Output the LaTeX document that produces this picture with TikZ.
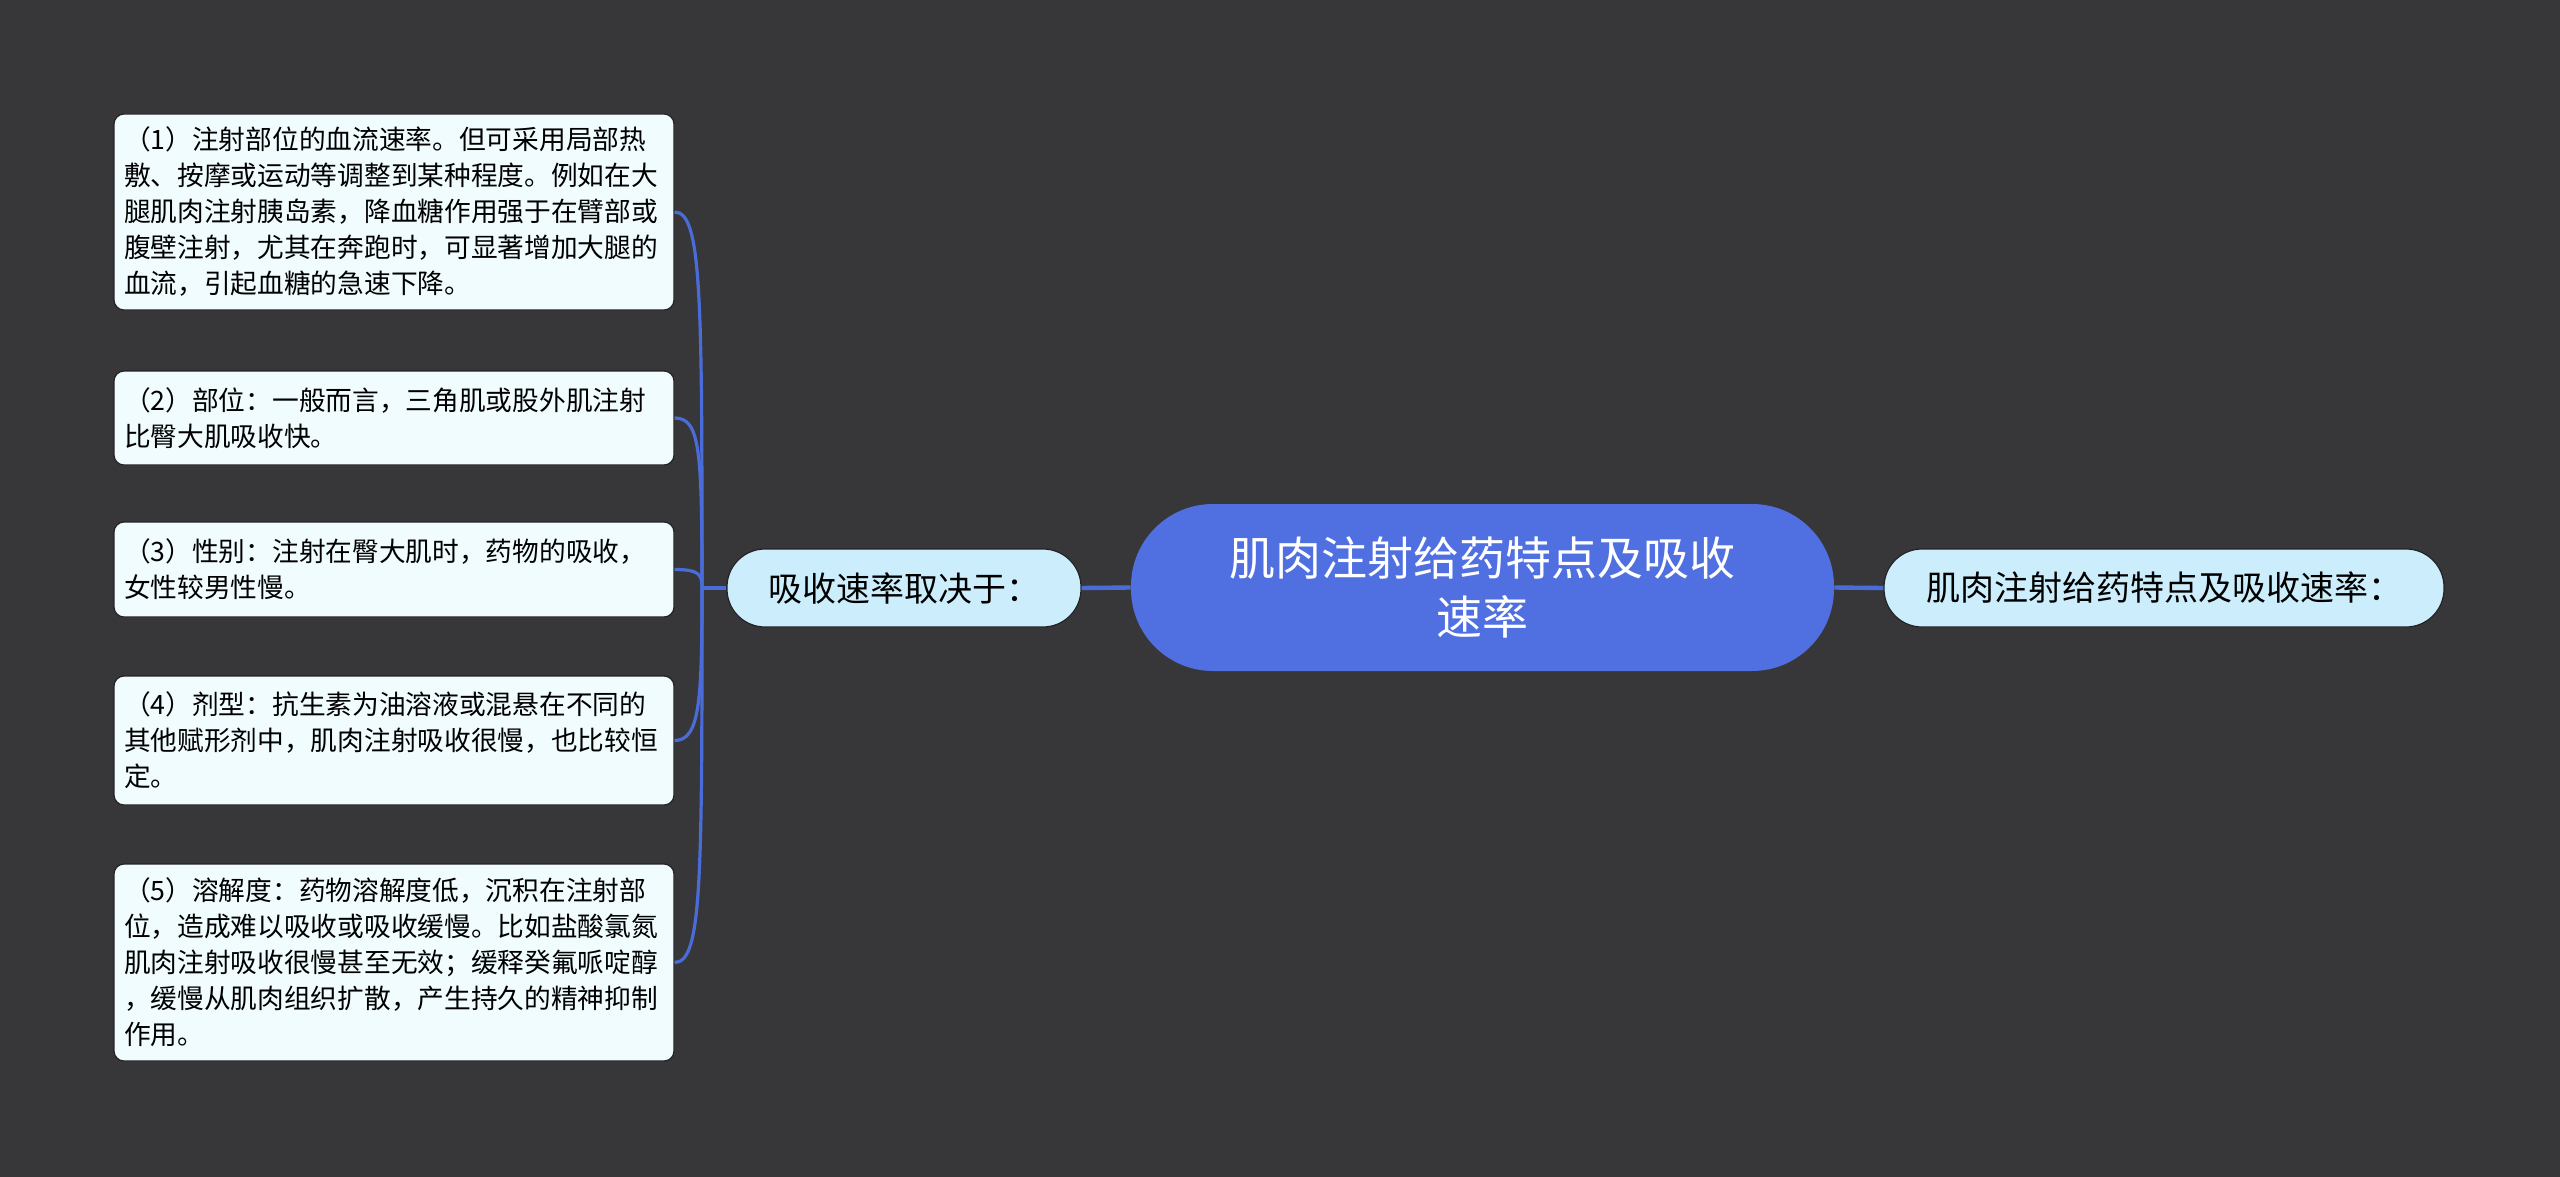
\documentclass[tikz,border=0pt]{standalone}
\usepackage{fontspec}
\setmainfont{Noto Sans CJK SC}
\definecolor{bgc}{RGB}{55,54,57}
\definecolor{link}{RGB}{74,108,216}
\definecolor{cfill}{RGB}{80,112,225}
\definecolor{mfill}{RGB}{204,238,252}
\definecolor{lfill}{RGB}{240,252,254}
\definecolor{edgec}{RGB}{35,35,38}
\begin{document}
\begin{tikzpicture}[x=0.5pt,y=-0.5pt,
  leafbox/.style={draw=edgec,line width=0.6pt,fill=lfill,rounded corners=5pt,
    minimum width=280pt,inner xsep=5pt,inner ysep=0pt,text width=270pt,align=left,
    font=\fontsize{13.35}{18}\selectfont,text=black},
  midbox/.style={draw=edgec,line width=0.6pt,fill=mfill,rounded corners=19pt,
    minimum height=39pt,inner sep=0pt,font=\fontsize{17}{20}\selectfont,text=black},
  centerbox/.style={fill=cfill,rounded corners=41pt,minimum width=351.5pt,minimum height=83.5pt,
    inner sep=0pt,align=center,font=\fontsize{23}{29.5}\selectfont,text=white},
  linkline/.style={draw=link,line width=2.2pt},
  leafline/.style={draw=link,line width=1.6pt}]
\fill[bgc] (0,0) rectangle (2560,1177);
\useasboundingbox (0,0) rectangle (2560,1177);

\node[centerbox] (c) at (1482.5,587.5) {肌肉注射给药特点及吸收\\速率};
\node[midbox,minimum width=177pt] (m) at (904,588) {吸收速率取决于：};
\node[midbox,minimum width=280pt] (r) at (2164,588) {肌肉注射给药特点及吸收速率：};

\node[leafbox,minimum height=98pt] (l1) at (394,212) {（1）注射部位的血流速率。但可采用局部热\\敷、按摩或运动等调整到某种程度。例如在大\\腿肌肉注射胰岛素，降血糖作用强于在臂部或\\腹壁注射，尤其在奔跑时，可显著增加大腿的\\血流，引起血糖的急速下降。};
\node[leafbox,minimum height=47pt] (l2) at (394,418) {（2）部位：一般而言，三角肌或股外肌注射\\比臀大肌吸收快。};
\node[leafbox,minimum height=47.5pt] (l3) at (394,569.5) {（3）性别：注射在臀大肌时，药物的吸收，\\女性较男性慢。};
\node[leafbox,minimum height=64.5pt] (l4) at (394,740.5) {（4）剂型：抗生素为油溶液或混悬在不同的\\其他赋形剂中，肌肉注射吸收很慢，也比较恒\\定。};
\node[leafbox,minimum height=98.5pt] (l5) at (394,962.5) {（5）溶解度：药物溶解度低，沉积在注射部\\位，造成难以吸收或吸收缓慢。比如盐酸氯氮\\肌肉注射吸收很慢甚至无效；缓释癸氟哌啶醇\\，缓慢从肌肉组织扩散，产生持久的精神抑制\\作用。};

\coordinate (hub) at (702,588);

\draw[linkline] (c.west) -- (m.east);
\draw[linkline] (c.east) -- (r.west);
\draw[leafline] (m.west) -- (hub);
\draw[leafline] (l1.east) .. controls (702,212) and (702,300) .. (hub);
\draw[leafline] (l2.east) .. controls (700,418) and (702,450) .. (hub);
\draw[leafline] (l3.east) .. controls (700,569.5) and (702,575) .. (hub);
\draw[leafline] (l4.east) .. controls (700,740.5) and (702,700) .. (hub);
\draw[leafline] (l5.east) .. controls (702,962.5) and (702,880) .. (hub);
\end{tikzpicture}
\end{document}
